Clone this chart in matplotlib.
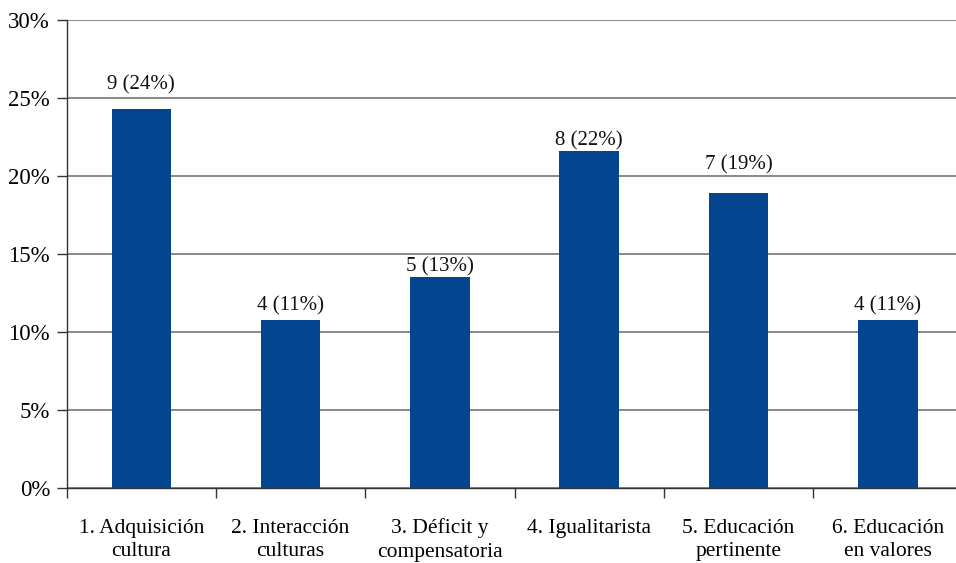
import matplotlib
matplotlib.use("Agg")
import matplotlib.pyplot as plt
from matplotlib.ticker import FuncFormatter

categories = ["1. Adquisición\ncultura", "2. Interacción\nculturas", "3. Déficit y\ncompensatoria",
              "4. Igualitarista", "5. Educación\npertinente", "6. Educación\nen valores"]
counts = [9, 4, 5, 8, 7, 4]
total = 37
percents = [c / total * 100 for c in counts]
labels = ["9 (24%)", "4 (11%)", "5 (13%)", "8 (22%)", "7 (19%)", "4 (11%)"]
# gap (pixels) between bar top and its label, as placed in the original
label_gaps = [14, 4, 1, 1, 19, 4]

plt.rcParams['font.family'] = ['Liberation Serif', 'DejaVu Serif']

fig = plt.figure(figsize=(9.56, 5.63), dpi=100)
ax = fig.add_axes([0.0698, 0.1332, 0.9368, 0.8304])

x = list(range(len(categories)))
bars = ax.bar(x, percents, width=0.4, color="#03458F", zorder=3)
for xi, p, lab, g in zip(x, percents, labels, label_gaps):
    ax.annotate(lab, (xi, p), xytext=(0, g), textcoords="offset pixels",
                ha="center", va="bottom", fontsize=15, color="#111111", zorder=4)

ax.set_ylim(0, 30)
ax.set_yticks([0, 5, 10, 15, 20, 25, 30])
ax.yaxis.set_major_formatter(FuncFormatter(lambda v, _: f"{int(v)}%"))
ax.set_xlim(-0.5, len(categories) - 0.5)
ax.set_xticks([i - 0.5 for i in range(len(categories) + 1)])
ax.set_xticklabels([])
ax.set_xticks(x, minor=True)
ax.set_xticklabels(categories, minor=True, fontsize=15.5, linespacing=1.32)
ax.tick_params(axis="x", which="minor", length=0, pad=22)
ax.tick_params(axis="x", which="major", length=7, width=1, color="#333333")
ax.tick_params(axis="y", length=7, width=1, color="#333333", labelsize=16.5, pad=5)

ax.yaxis.grid(True, color="#808080", linewidth=1.3, zorder=0)
for s in ["top", "right"]:
    ax.spines[s].set_visible(False)
for s in ["left", "bottom"]:
    ax.spines[s].set_color("#333333")
    ax.spines[s].set_linewidth(1)

fig.savefig("out.png", dpi=100)
